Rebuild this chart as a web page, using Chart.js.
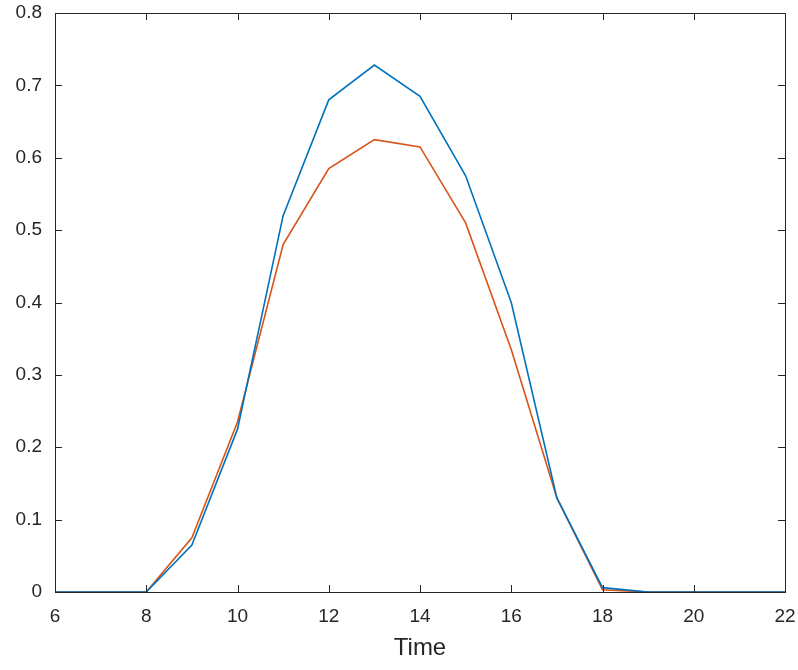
<!DOCTYPE html>
<html lang="en">
<head>
    <meta charset="UTF-8">
    <title>Time profile</title>
    <script src="https://cdn.jsdelivr.net/npm/chart.js"></script>
    <style>
        body {
            margin: 0;
            padding: 0;
            background-color: #fff;
        }
        #chart-box {
            width: 798px;
            height: 670px;
        }
    </style>
</head>
<body>
    <div id="chart-box"><canvas id="chart"></canvas></div>

    <script>
        // Hours on the x axis
        const hours = [6, 7, 8, 9, 10, 11, 12, 13, 14, 15, 16, 17, 18, 19, 20, 21, 22];
        // Blue series
        const seriesA = [0, 0, 0, 0.065, 0.225, 0.52, 0.68, 0.728, 0.685, 0.575, 0.40, 0.13, 0.006, 0, 0, 0, 0];
        // Orange series
        const seriesB = [0, 0, 0, 0.075, 0.235, 0.48, 0.585, 0.625, 0.615, 0.51, 0.335, 0.13, 0.003, 0, 0, 0, 0];
        // Tick labels
        const xTicks = [6, 8, 10, 12, 14, 16, 18, 20, 22];
        const yTicks = [0, 0.1, 0.2, 0.3, 0.4, 0.5, 0.6, 0.7, 0.8];

        const toPoints = (vals) => hours.map((h, i) => ({ x: h, y: vals[i] }));

        // Draws the MATLAB-like box and inward ticks
        const boxPlugin = {
            id: "boxPlugin",
            afterDatasetsDraw(chart) {
                const { ctx, chartArea: a, scales } = chart;
                const len = 7;
                ctx.save();
                ctx.strokeStyle = "#262626";
                ctx.lineWidth = 1;
                ctx.beginPath();
                xTicks.forEach((v) => {
                    const px = Math.round(scales.x.getPixelForValue(v)) + 0.5;
                    ctx.moveTo(px, a.bottom);
                    ctx.lineTo(px, a.bottom - len);
                    ctx.moveTo(px, a.top);
                    ctx.lineTo(px, a.top + len);
                });
                yTicks.forEach((v) => {
                    const py = Math.round(scales.y.getPixelForValue(v)) + 0.5;
                    ctx.moveTo(a.left, py);
                    ctx.lineTo(a.left + len, py);
                    ctx.moveTo(a.right, py);
                    ctx.lineTo(a.right - len, py);
                });
                ctx.stroke();
                ctx.strokeRect(Math.round(a.left) + 0.5, Math.round(a.top) + 0.5,
                    Math.round(a.right - a.left), Math.round(a.bottom - a.top));
                ctx.restore();
            },
        };

        new Chart(document.getElementById("chart").getContext("2d"), {
            type: "line",
            data: {
                datasets: [
                    {
                        data: toPoints(seriesA),
                        borderColor: "#0072BD",
                        borderWidth: 1.6,
                        pointRadius: 0,
                        tension: 0,
                    },
                    {
                        data: toPoints(seriesB),
                        borderColor: "#D95319",
                        borderWidth: 1.6,
                        pointRadius: 0,
                        tension: 0,
                    },
                ],
            },
            options: {
                responsive: true,
                maintainAspectRatio: false,
                animation: false,
                layout: { padding: { top: 13, right: 13, left: 0, bottom: 0 } },
                plugins: {
                    legend: { display: false },
                    tooltip: { enabled: false },
                },
                scales: {
                    x: {
                        type: "linear",
                        min: 6,
                        max: 22,
                        afterBuildTicks: (s) => { s.ticks = xTicks.map((v) => ({ value: v })); },
                        afterFit: (s) => {
                            s.height = 78;
                            s.paddingLeft = 0;
                            s.paddingRight = 0;
                        },
                        grid: { display: false, drawTicks: false },
                        border: { display: false },
                        ticks: {
                            padding: 13,
                            color: "#262626",
                            font: { family: "Liberation Sans, Arial", size: 19 },
                        },
                        title: {
                            display: true,
                            text: "Time",
                            color: "#262626",
                            font: { family: "Liberation Sans, Arial", size: 24 },
                            padding: { top: 0, bottom: 7 },
                        },
                    },
                    y: {
                        min: 0,
                        max: 0.8,
                        afterBuildTicks: (s) => { s.ticks = yTicks.map((v) => ({ value: v })); },
                        afterFit: (s) => {
                            s.width = 55;
                            s.paddingTop = 0;
                            s.paddingBottom = 0;
                        },
                        grid: { display: false, drawTicks: false },
                        border: { display: false },
                        ticks: {
                            padding: 13,
                            color: "#262626",
                            font: { family: "Liberation Sans, Arial", size: 19 },
                            callback: (v) => (v === 0 ? "0" : v.toFixed(1)),
                        },
                    },
                },
            },
            plugins: [boxPlugin],
        });
    </script>
</body>
</html>
